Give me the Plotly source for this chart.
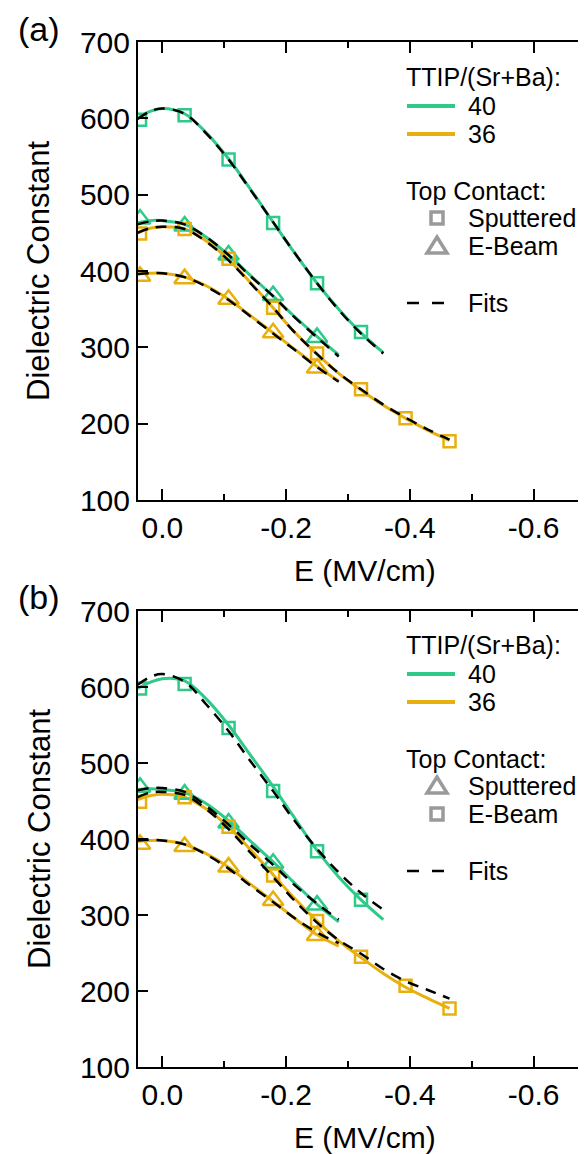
import plotly.graph_objects as go

W, H = 586, 1154
FONT = "Liberation Sans, Arial, sans-serif"
GREEN = "#2FC98A"
ORANGE = "#E8B00E"
GREY = "#9A9A9A"

# ---------------- data ----------------
E_DATA = [0.036, -0.036, -0.107, -0.179, -0.25, -0.321, -0.393, -0.464]

eps40_square = [598, 604, 546, 463, 384, 320]
eps40_triangle = [468, 459, 421, 368, 313]
eps36_square = [449, 455, 416, 352, 292, 245, 207, 177]
eps36_triangle = [393, 390, 363, 319, 273]

E_CURVE = [0.04, 0.02, 0.0, -0.036, -0.07, -0.107, -0.14, -0.179, -0.21,
           -0.25, -0.285, -0.321, -0.357, -0.393, -0.43, -0.464]

# panel (a): solid colour curves and black dashed fits
a_line40_sq = [600, 609, 613, 606, 582, 547, 510, 464, 428, 384, 350, 319, 293]
a_line40_tri = [463, 466, 466, 461, 445, 421, 396, 367, 343, 314, 290]
a_line36_sq = [450, 456, 458, 455, 440, 415, 387, 352, 323, 291, 266, 244, 224, 207, 191, 178]
a_line36_tri = [396, 397, 397, 392, 381, 363, 343, 319, 300, 275, 256]
a_fit40_sq = [599, 609, 613, 606, 581, 546, 509, 464, 428, 384, 349, 318, 292]
a_fit40_tri = [461, 465, 466, 461, 445, 421, 395, 367, 342, 313, 288]
a_fit36_sq = [450, 456, 458, 455, 439, 414, 386, 352, 323, 291, 266, 245, 225, 208, 192, 179]
a_fit36_tri = [396, 397, 397, 392, 380, 362, 342, 318, 299, 274, 255]

# panel (b)
b_line40_sq = [598, 606, 611, 608, 585, 550, 513, 469, 432, 385, 350, 320, 294]
b_line40_tri = [465, 466, 465, 461, 447, 424, 399, 370, 345, 314, 291]
b_line36_sq = [452, 457, 459, 455, 440, 416, 388, 353, 325, 292, 266, 244, 223, 205, 190, 177]
b_line36_tri = [397, 398, 398, 393, 381, 363, 342, 318, 298, 274, 259]
b_fit40_sq = [603, 613, 617, 607, 578, 542, 505, 463, 428, 387, 356, 329, 307]
b_fit40_tri = [464, 467, 467, 462, 444, 419, 394, 366, 342, 315, 294]
b_fit36_sq = [455, 461, 462, 458, 440, 413, 384, 350, 322, 290, 267, 249, 229, 213, 201, 190]
b_fit36_tri = [398, 399, 398, 393, 380, 361, 340, 317, 298, 277, 263]

X_TICKS = [0.0, -0.2, -0.4, -0.6]
X_TICKTEXT = ["0.0", "-0.2", "-0.4", "-0.6"]
X_MINOR = [-0.1, -0.3, -0.5]
Y_TICKS = [100, 200, 300, 400, 500, 600, 700]

panels = {
    "a": dict(lines=(a_line40_sq, a_line40_tri, a_line36_sq, a_line36_tri),
              fits=(a_fit40_sq, a_fit40_tri, a_fit36_sq, a_fit36_tri)),
    "b": dict(lines=(b_line40_sq, b_line40_tri, b_line36_sq, b_line36_tri),
              fits=(b_fit40_sq, b_fit40_tri, b_fit36_sq, b_fit36_tri)),
}

fig = go.Figure()

for key, (xa, ya) in zip(["a", "b"], [("x", "y"), ("x2", "y2")]):
    lines = panels[key]["lines"]
    fits = panels[key]["fits"]
    colors = (GREEN, GREEN, ORANGE, ORANGE)
    for ys, c in zip(lines, colors):
        fig.add_trace(go.Scatter(x=E_CURVE[:len(ys)], y=ys, mode="lines",
                                 line=dict(color=c, width=3, shape="spline"),
                                 xaxis=xa, yaxis=ya, showlegend=False, hoverinfo="skip"))
    marker_sets = [
        (eps40_square, GREEN, "square-open", 12),
        (eps40_triangle, GREEN, "triangle-up-open", 18),
        (eps36_square, ORANGE, "square-open", 12),
        (eps36_triangle, ORANGE, "triangle-up-open", 18),
    ]
    for ys, c, sym, sz in marker_sets:
        fig.add_trace(go.Scatter(x=E_DATA[:len(ys)], y=ys, mode="markers",
                                 marker=dict(symbol=sym, size=sz, color=c,
                                             line=dict(color=c, width=2.5)),
                                 xaxis=xa, yaxis=ya, showlegend=False))
    for ys in fits:
        fig.add_trace(go.Scatter(x=E_CURVE[:len(ys)], y=ys, mode="lines",
                                 line=dict(color="black", width=2.5, dash="11px,8px", shape="spline"),
                                 xaxis=xa, yaxis=ya, showlegend=False, hoverinfo="skip"))


def px(x):
    return x / W


def py(y):
    return 1 - y / H


X0, X1 = 130, 584
PANEL_Y = {"a": (34, 492), "b": (603, 1059)}

xaxis_common = dict(
    range=[0.0393, -0.6942], tickvals=X_TICKS, ticktext=X_TICKTEXT,
    ticks="inside", ticklen=11, tickwidth=2, tickcolor="black",
    minor=dict(tickvals=X_MINOR, ticks="inside", ticklen=6, tickwidth=2, tickcolor="black"),
    showline=True, linewidth=2, linecolor="black", mirror="ticks",
    showgrid=False, zeroline=False, automargin=False,
    tickfont=dict(family=FONT, size=30, color="black"),
    domain=[px(X0), px(X1)],
)
yaxis_common = dict(
    range=[100, 700], tickvals=Y_TICKS,
    ticks="inside", ticklen=10, tickwidth=2, tickcolor="black",
    showline=True, linewidth=2, linecolor="black", mirror="ticks",
    showgrid=False, zeroline=False, automargin=False,
    tickfont=dict(family=FONT, size=30, color="black"),
)

layout = dict(
    template="none",
    width=W, height=H, margin=dict(l=0, r=0, t=0, b=0, pad=0),
    paper_bgcolor="white", plot_bgcolor="white", showlegend=False,
    xaxis=dict(xaxis_common, anchor="y"),
    yaxis=dict(yaxis_common, anchor="x",
               domain=[py(PANEL_Y["a"][1]), py(PANEL_Y["a"][0])]),
    xaxis2=dict(xaxis_common, anchor="y2"),
    yaxis2=dict(yaxis_common, anchor="x2",
                domain=[py(PANEL_Y["b"][1]), py(PANEL_Y["b"][0])]),
)
fig.update_layout(**layout)

annotations = []
shapes = []
for key, label, dy in [("a", "(a)", 0), ("b", "(b)", 568)]:
    top, bot = PANEL_Y[key]
    mid = (top + bot) / 2
    annotations.append(dict(text=label, x=px(31), y=py(21 + dy), xref="paper", yref="paper",
                            showarrow=False, font=dict(family=FONT, size=34, color="black"),
                            xanchor="center", yanchor="middle"))
    annotations.append(dict(text="Dielectric Constant", x=px(31), y=py(mid), xref="paper",
                            yref="paper", textangle=-90, showarrow=False,
                            font=dict(family=FONT, size=31, color="black"),
                            xanchor="center", yanchor="middle"))
    annotations.append(dict(text="E (MV/cm)", x=px(357), y=py(bot + 70), xref="paper",
                            yref="paper", showarrow=False,
                            font=dict(family=FONT, size=30, color="black"),
                            xanchor="center", yanchor="middle"))
    lf = dict(family=FONT, size=25, color="black")
    for txt, lx, ly in [("TTIP/(Sr+Ba):", 396, 69), ("40", 458, 98), ("36", 458, 126),
                        ("Top Contact:", 396, 183), ("Sputtered", 458, 210),
                        ("E-Beam", 458, 238), ("Fits", 458, 295)]:
        annotations.append(dict(text=txt, x=px(lx), y=py(ly + dy), xref="paper", yref="paper",
                                showarrow=False, font=lf, xanchor="left", yanchor="middle"))
    for c, ly in [(GREEN, 98), (ORANGE, 126)]:
        shapes.append(dict(type="line", xref="paper", yref="paper", x0=px(399), x1=px(447),
                           y0=py(ly + dy), y1=py(ly + dy), line=dict(color=c, width=4)))
    shapes.append(dict(type="line", xref="paper", yref="paper", x0=px(399), x1=px(437),
                       y0=py(295 + dy), y1=py(295 + dy),
                       line=dict(color="black", width=2.5, dash="12px,13px")))
    if key == "a":
        sq_y, tri_y = 210, 238
    else:
        sq_y, tri_y = 238, 210
    cx = 429
    s = 6
    shapes.append(dict(type="rect", xref="paper", yref="paper",
                       x0=px(cx - s), x1=px(cx + s), y0=py(sq_y + dy - s), y1=py(sq_y + dy + s),
                       line=dict(color=GREY, width=3.5)))
    ty = tri_y + dy
    path = "M {:.5f},{:.5f} L {:.5f},{:.5f} L {:.5f},{:.5f} Z".format(
        px(cx - 10), py(ty + 7), px(cx + 10), py(ty + 7), px(cx), py(ty - 9))
    shapes.append(dict(type="path", xref="paper", yref="paper", path=path,
                       line=dict(color=GREY, width=3.5)))

fig.update_layout(annotations=annotations, shapes=shapes)
fig.write_html("out.html")
